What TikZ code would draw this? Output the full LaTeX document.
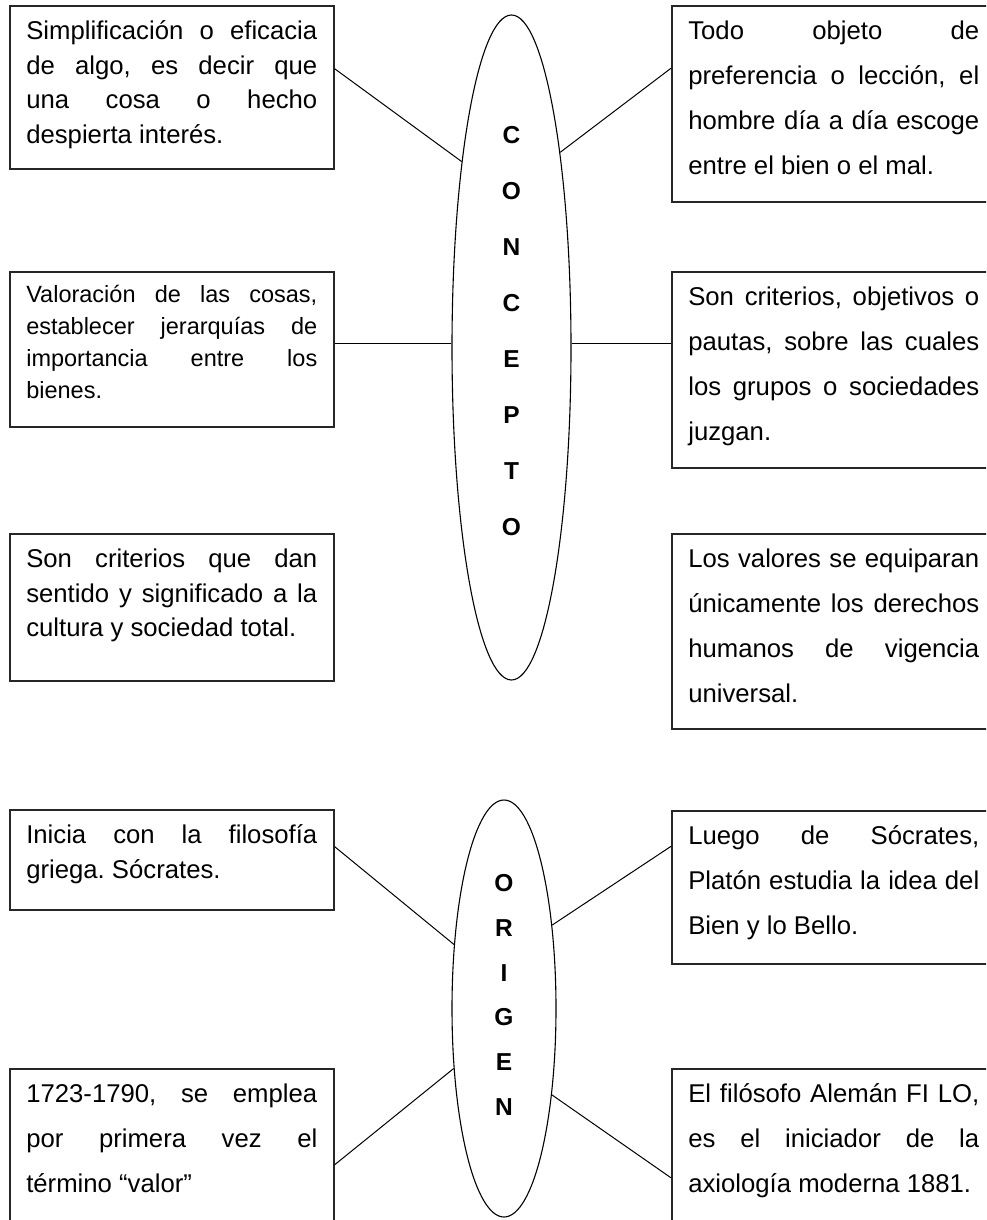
\documentclass[tikz,border=0pt]{standalone}
\usepackage{fontspec}
\setmainfont{Liberation Sans}
\usetikzlibrary{shapes.geometric,calc}
\frenchspacing

\tikzset{
  caja/.style={draw=black!85, line width=1.6pt, anchor=north west, text width=291pt,
    align=justify, inner xsep=16.5pt, inner ysep=0pt, text height=34pt,
    font=\fontsize{25.7pt}{34.5pt}\selectfont},
  ancha/.style={font=\fontsize{25.7pt}{45pt}\selectfont},
  ovalo/.style={draw, ellipse, line width=1.1pt, inner sep=0pt},
  letras/.style={align=center, inner sep=0pt},
  conector/.style={line width=1pt}
}

\begin{document}
\begin{tikzpicture}[x=1pt,y=-1pt]
    \useasboundingbox (0,0) rectangle (986,1220);
    \clip (0,0) rectangle (986,1220);

    % CONCEPTO
    \node[ovalo, minimum width=119pt, minimum height=665pt] (concepto) at (511.5,347.5) {};
    \node[letras, font=\bfseries\fontsize{24.5pt}{56pt}\selectfont] (txtconcepto) at (511.5,331)
      {C\\O\\N\\C\\E\\P\\T\\O};

    \node[caja, text depth=129pt] (cl1) at (9,5)
      {Simplificación o eficacia\linebreak de algo, es decir que\linebreak una cosa o hecho\linebreak despierta interés.};
    \node[caja, text height=31pt, text depth=124pt, font=\fontsize{23.5pt}{32pt}\selectfont] (cl2) at (9,271)
      {Valoración de las cosas,\linebreak establecer jerarquías de\linebreak importancia entre los\linebreak bienes.};
    \node[caja, text depth=113pt] (cl3) at (9,533)
      {Son criterios que dan\linebreak sentido y significado a la\linebreak cultura y sociedad total.};

    \node[caja, ancha, text depth=162pt] (cr1) at (671,5)
      {Todo objeto de\linebreak preferencia o lección, el\linebreak hombre día a día escoge\linebreak entre el bien o el mal.};
    \node[caja, ancha, text depth=162pt] (cr2) at (671,271)
      {Son criterios, objetivos o\linebreak pautas, sobre las cuales\linebreak los grupos o sociedades\linebreak juzgan.};
    \node[caja, ancha, text depth=161pt] (cr3) at (671,533)
      {Los valores se equiparan\linebreak únicamente los derechos\linebreak humanos de vigencia\linebreak universal.};

    \draw[conector] ($(cl1.north east)!0.387!(cl1.south east)$) -- (concepto.105);
    \draw[conector] ($(cr1.north west)!0.32!(cr1.south west)$) -- (concepto.76);
    \draw[conector] (concepto.176) -- (concepto.176 -| cl2.east);
    \draw[conector] (concepto.4) -- (concepto.4 -| cr2.west);

    % ORIGEN
    \node[ovalo, minimum width=104pt, minimum height=417pt] (origen) at (504,1008.5) {};
    \node[letras, font=\bfseries\fontsize{24.5pt}{44.8pt}\selectfont] (txtorigen) at (504,995)
      {O\\R\\I\\G\\E\\N};

    \node[caja, text depth=66pt] (ol1) at (9,809)
      {Inicia con la filosofía\linebreak griega. Sócrates.};
    \node[caja, ancha, text depth=158pt] (ol2) at (9,1068)
      {1723-1790, se emplea\linebreak por primera vez el\linebreak término “valor”};
    \node[caja, ancha, text depth=119pt] (or1) at (671,810)
      {Luego de Sócrates,\linebreak Platón estudia la idea del\linebreak Bien y lo Bello.};
    \node[caja, ancha, text depth=184pt] (or2) at (671,1068)
      {El filósofo Alemán FI LO,\linebreak es el iniciador de la\linebreak axiología moderna 1881.};

    \draw[conector] ($(ol1.north east)!0.37!(ol1.south east)$) -- (origen.128);
    \draw[conector] (ol2.east) -- (origen.230);
    \draw[conector] ($(or1.north west)!0.235!(or1.south west)$) -- (origen.60);
    \draw[conector] (or2.west) -- (origen.299);

\end{tikzpicture}
\end{document}
